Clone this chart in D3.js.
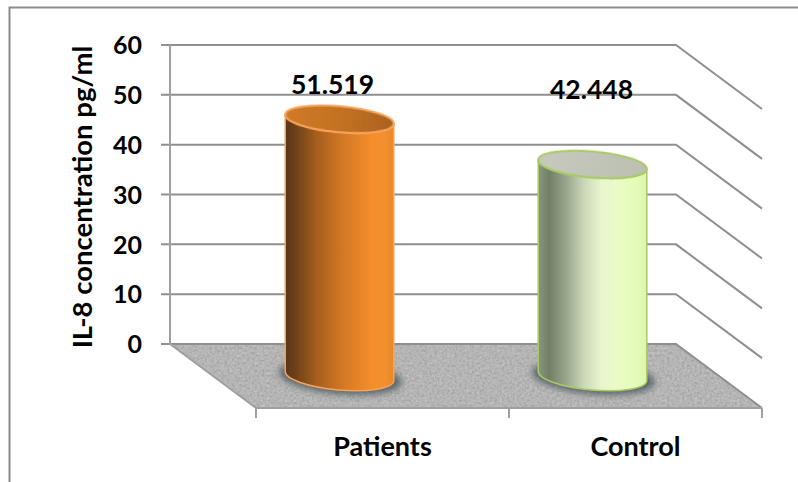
<!DOCTYPE html>
<html>
<head>
<meta charset="utf-8">
<script src="https://cdn.jsdelivr.net/npm/d3@7"></script>
<style>
  html, body { margin: 0; padding: 0; background: #fff; }
  svg { display: block; }
  text { font-family: Lato, "Open Sans", sans-serif; font-weight: 700; fill: #000; }
</style>
</head>
<body>
<div id="chart"></div>
<script>
const categories = ["Patients", "Control"];
const values = [51.519, 42.448];
const yTicks = [0, 10, 20, 30, 40, 50, 60];
const yTitle = "IL-8 concentration pg/ml";

const WIDTH = 798, HEIGHT = 482;

// back wall and the depth offset of the 3D box
const wall = { left: 170, right: 676, top: 45, bottom: 344 };
const depth = { x: 86, y: 64 };

const y = d3.scaleLinear().domain([0, 60]).range([wall.bottom, wall.top]);
// bars stand half way between the wall and the front of the floor
const yMid = v => y(v) + depth.y / 2;
const x = d3.scaleBand().domain(categories)
  .range([wall.left + depth.x / 2, wall.right + depth.x / 2]);
const xFront = d3.scaleBand().domain(categories)
  .range([wall.left + depth.x, wall.right + depth.x]);

const svg = d3.select("#chart").append("svg").attr("width", WIDTH).attr("height", HEIGHT);
const defs = svg.append("defs");

function gradient(id, stops) {
  const g = defs.append("linearGradient").attr("id", id);
  stops.forEach(s => g.append("stop").attr("offset", s[0]).attr("stop-color", s[1]));
}
gradient("bodyPatients", [[0, "#57351a"], [0.1, "#6f4219"], [0.3, "#a9601f"], [0.55, "#d67a25"], [0.8, "#f58e2b"], [0.92, "#f29030"], [1, "#e88729"]]);
gradient("bodyControl", [[0, "#8a9680"], [0.1, "#727f66"], [0.25, "#98a48a"], [0.42, "#cbd7b8"], [0.58, "#e8f5cf"], [0.75, "#eafcc6"], [0.9, "#e4fbb8"], [1, "#dcf5ac"]]);
gradient("topPatients", [[0, "#d17a27"], [0.6, "#c06f22"], [1, "#a9621f"]]);
gradient("topControl", [[0, "#c6c9bc"], [1, "#bcc0b2"]]);

// grainy look of the floor: light and dark specks over the flat grey
const grain = defs.append("filter").attr("id", "grain")
  .attr("x", 0).attr("y", 0).attr("width", "100%").attr("height", "100%")
  .attr("color-interpolation-filters", "sRGB");
grain.append("feTurbulence").attr("type", "fractalNoise").attr("baseFrequency", 0.4)
  .attr("numOctaves", 3).attr("seed", 4).attr("result", "n");
grain.append("feColorMatrix").attr("in", "n").attr("type", "matrix")
  .attr("values", "0 0 0 0 0.8  0 0 0 0 0.8  0 0 0 0 0.8  1.8 0 0 0 -0.8")
  .attr("result", "c");
grain.append("feComposite").attr("in", "c").attr("in2", "SourceGraphic").attr("operator", "in").attr("result", "d");
grain.append("feColorMatrix").attr("in", "n").attr("type", "matrix")
  .attr("values", "0 0 0 0 0.6  0 0 0 0 0.6  0 0 0 0 0.6  0 1.8 0 0 -0.8")
  .attr("result", "e");
grain.append("feComposite").attr("in", "e").attr("in2", "SourceGraphic").attr("operator", "in").attr("result", "f");
const gm = grain.append("feMerge");
gm.append("feMergeNode").attr("in", "SourceGraphic");
gm.append("feMergeNode").attr("in", "d");
gm.append("feMergeNode").attr("in", "f");

defs.append("filter").attr("id", "blur").attr("x", "-20%").attr("y", "-50%")
  .attr("width", "140%").attr("height", "200%")
  .append("feGaussianBlur").attr("stdDeviation", 3.5);
defs.append("filter").attr("id", "soft").attr("x", "-5%").attr("y", "-5%")
  .attr("width", "110%").attr("height", "110%")
  .append("feGaussianBlur").attr("stdDeviation", 0.5);

// outer frame, only top and left show
svg.append("path").attr("d", `M9.5,${HEIGHT}V7.5H${WIDTH}`)
  .attr("fill", "none").attr("stroke", "#8c8c8c").attr("stroke-width", 2);

// floor
const fl = y(0);
svg.append("path")
  .attr("d", `M${wall.left},${fl}H${wall.right}L${wall.right + depth.x},${fl + depth.y}H${wall.left + depth.x}Z`)
  .attr("fill", "#b6b6b6").attr("filter", "url(#grain)");

// grid lines: along the wall and down the right side
svg.append("g").selectAll("path").data(yTicks).enter().append("path")
  .attr("d", d => `M${wall.left - 9},${y(d)}H${wall.right}L${wall.right + depth.x},${y(d) + depth.y}`)
  .attr("fill", "none").attr("stroke", "#8f8f8f").attr("stroke-width", 2);

// left wall edge and floor edges
const edgeColor = "#a0a0a0";
svg.append("path").attr("d", `M${wall.left},${wall.top}V${fl}L${wall.left + depth.x},${fl + depth.y}`)
  .attr("fill", "none").attr("stroke", edgeColor).attr("stroke-width", 2);
svg.append("path").attr("d", `M${wall.left + depth.x},${fl + depth.y}H${wall.right + depth.x}`)
  .attr("fill", "none").attr("stroke", edgeColor).attr("stroke-width", 2);
const frontTicks = [xFront.range()[0], xFront(categories[1]), xFront.range()[1]];
svg.append("g").selectAll("line").data(frontTicks).enter().append("line")
  .attr("x1", d => d).attr("x2", d => d)
  .attr("y1", fl + depth.y).attr("y2", fl + depth.y + 10)
  .attr("stroke", edgeColor).attr("stroke-width", 2);

// cylinders
const rx = 54.5, ryTop = 13, ryBase = 14, tilt = 5;
const cosT = Math.cos(tilt * Math.PI / 180), sinT = Math.sin(tilt * Math.PI / 180);
const bars = svg.append("g").selectAll("g").data(values).enter().append("g");
const cx = (d, i) => x(categories[i]) + x.bandwidth() / 2;

bars.append("ellipse").attr("class", "shadow")
  .attr("cx", (d, i) => cx(d, i) + 1).attr("cy", yMid(0) + 1)
  .attr("rx", rx + 7).attr("ry", ryBase + 3)
  .attr("transform", (d, i) => `rotate(${tilt} ${cx(d, i)} ${yMid(0)})`)
  .attr("fill", "#454f55").attr("opacity", 0.8).attr("filter", "url(#blur)");

const strokes = ["#f7a35c", "#a9c965"];
const tops = ["topPatients", "topControl"];
const bodies = ["bodyPatients", "bodyControl"];

bars.append("path")
  .attr("d", (d, i) => {
    const c = cx(d, i), t = yMid(d), b = yMid(0);
    return `M${c - rx * cosT},${t - rx * sinT}` +
      `L${c - rx * cosT},${b - rx * sinT}` +
      `A${rx},${ryBase} ${tilt} 0 0 ${c + rx * cosT},${b + rx * sinT}` +
      `L${c + rx * cosT},${t + rx * sinT}` +
      `A${rx},${ryTop} ${tilt} 0 1 ${c - rx * cosT},${t - rx * sinT}Z`;
  })
  .attr("fill", (d, i) => `url(#${bodies[i]})`)
  .attr("stroke", (d, i) => strokes[i]).attr("stroke-width", 1.5)
  .attr("filter", "url(#soft)");

bars.append("ellipse")
  .attr("cx", cx).attr("cy", d => yMid(d))
  .attr("rx", rx).attr("ry", ryTop)
  .attr("transform", (d, i) => `rotate(${tilt} ${cx(d, i)} ${yMid(d)})`)
  .attr("fill", (d, i) => `url(#${tops[i]})`)
  .attr("stroke", (d, i) => strokes[i]).attr("stroke-width", 2)
  .attr("filter", "url(#soft)");

// value labels, the second one sits a bit lower than the first
svg.append("g").selectAll("text").data(values).enter().append("text")
  .attr("x", (d, i) => cx(d, i) + (i === 0 ? -7 : -1))
  .attr("y", (d, i) => i === 0 ? 94 : 99)
  .attr("text-anchor", "middle").attr("font-size", 26.5)
  .text(d => d.toFixed(3));

// y axis labels
const yAxis = d3.axisLeft(y).tickValues(yTicks).tickSize(0).tickPadding(0);
const axisG = svg.append("g").attr("transform", `translate(${wall.left - 28},0)`).call(yAxis);
axisG.select(".domain").remove();
axisG.selectAll("text").attr("font-size", 25).attr("font-family", null).attr("dy", "0.35em");

// category labels
svg.append("g").selectAll("text").data(categories).enter().append("text")
  .attr("x", d => xFront(d) + xFront.bandwidth() / 2)
  .attr("y", 456)
  .attr("text-anchor", "middle").attr("font-size", 27)
  .text(d => d);

// axis title
svg.append("text")
  .attr("transform", "translate(92,197) rotate(-90)")
  .attr("text-anchor", "middle").attr("font-size", 27.5)
  .text(yTitle);
</script>
</body>
</html>
